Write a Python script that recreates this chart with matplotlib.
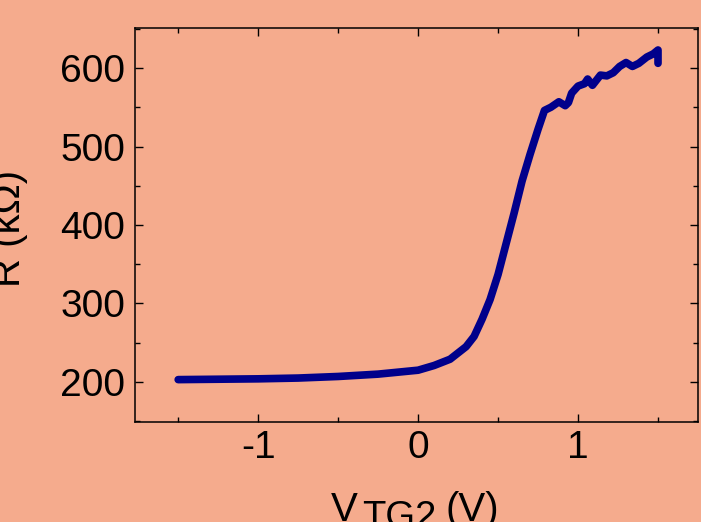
import numpy as np
import matplotlib
matplotlib.use('Agg')
import matplotlib.pyplot as plt
from matplotlib.ticker import MultipleLocator

plt.rcParams['font.family'] = ['Liberation Sans', 'DejaVu Sans']
plt.rcParams['axes.unicode_minus'] = False

# barrido de compuerta superior (V) y resistencia (kOhm)
v_tg2 = [-1.5, -1.25, -1.0, -0.75, -0.5, -0.25, 0.0, 0.1, 0.2, 0.3, 0.35,
         0.4, 0.45, 0.5, 0.55, 0.6, 0.65, 0.7, 0.75, 0.79, 0.83, 0.88, 0.92,
         0.94, 0.96, 1.0, 1.04, 1.06, 1.09, 1.14, 1.18, 1.22, 1.26, 1.3,
         1.34, 1.38, 1.43, 1.47, 1.5, 1.5]
r_kohm = [203, 203.5, 204, 205, 207, 210, 215, 221, 229, 245, 258,
          280, 305, 337, 376, 415, 456, 490, 522, 546, 550, 557, 552,
          556, 568, 577, 580, 586, 578, 591, 590, 594, 602, 607,
          602, 606, 614, 618, 623, 606]

fondo = '#F5AB8D'
fig = plt.figure(figsize=(7.01, 5.22), dpi=100, facecolor=fondo)
ax = fig.add_axes([135/701, 1 - 422/522, (698 - 135)/701, (422 - 28)/522])
ax.set_facecolor(fondo)

ax.plot(v_tg2, r_kohm, color='#00008B', lw=5.5, solid_capstyle='round',
        solid_joinstyle='round')

ax.set_xlim(-1.77, 1.75)
ax.set_ylim(149, 651)
ax.xaxis.set_major_locator(MultipleLocator(1))
ax.xaxis.set_minor_locator(MultipleLocator(0.5))
ax.yaxis.set_major_locator(MultipleLocator(100))
ax.yaxis.set_minor_locator(MultipleLocator(50))
ax.tick_params(which='both', direction='in', top=True, right=True, width=1)
ax.tick_params(which='major', length=6, labelsize=28)
ax.tick_params(which='minor', length=3.5)
ax.tick_params(axis='x', which='major', pad=6)
ax.tick_params(axis='y', which='major', pad=7)
for s in ax.spines.values():
    s.set_linewidth(1.1)

# etiqueta del eje y (cortada por el borde, como en la original)
fig.text(20/701, 1 - 287/522, 'R (k\u03a9)', rotation=90, rotation_mode='anchor',
         ha='left', va='baseline', fontsize=29)

# etiqueta del eje x con subindice
fig.text(331/701, 1 - 521/522, 'V', ha='left', va='baseline', fontsize=29)
fig.text(362/701, 1 - 528/522, 'TG2', ha='left', va='baseline', fontsize=27.5)
fig.text(446/701, 1 - 521/522, '(V)', ha='left', va='baseline', fontsize=29)

fig.savefig('out.png', dpi=100, facecolor=fondo)
